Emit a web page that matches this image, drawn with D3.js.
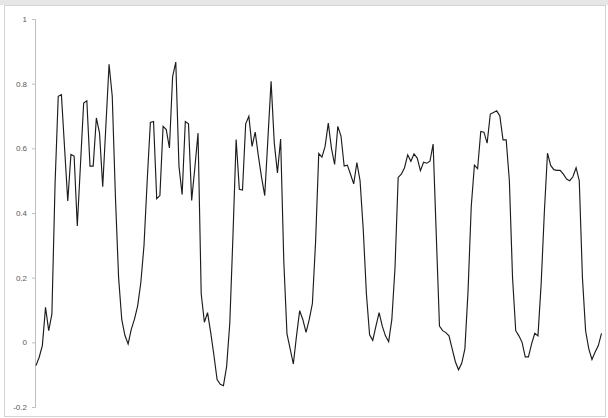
<!DOCTYPE html>
<html>
<head>
<meta charset="utf-8">
<script src="https://cdn.jsdelivr.net/npm/d3@7"></script>
<style>
  html, body { margin: 0; padding: 0; background: #ffffff; }
  svg { display: block; }
</style>
</head>
<body>
<div id="chart"></div>
<script>
// ---- data ----
const values = [
  -0.072, -0.046, -0.010, 0.108, 0.036, 0.087, 0.49, 0.761, 0.766, 0.60,
  0.437, 0.581, 0.576, 0.360, 0.55, 0.740, 0.747, 0.545, 0.545, 0.694,
  0.647, 0.481, 0.67, 0.860, 0.761, 0.45, 0.20, 0.07, 0.021, -0.005,
  0.041, 0.072, 0.113, 0.185, 0.30, 0.50, 0.680, 0.683, 0.444, 0.454,
  0.668, 0.658, 0.601, 0.822, 0.867, 0.545, 0.457, 0.683, 0.676, 0.439,
  0.54, 0.647, 0.15, 0.062, 0.092, 0.03, -0.04, -0.115, -0.13, -0.134,
  -0.075, 0.06, 0.33, 0.627, 0.473, 0.471, 0.676, 0.699, 0.606, 0.650,
  0.576, 0.51, 0.454, 0.63, 0.807, 0.617, 0.524, 0.629, 0.25, 0.026,
  -0.02, -0.067, 0.02, 0.098, 0.07, 0.031, 0.07, 0.12, 0.31, 0.584,
  0.573, 0.606, 0.678, 0.60, 0.55, 0.668, 0.638, 0.545, 0.548, 0.52,
  0.49, 0.556, 0.50, 0.35, 0.15, 0.023, 0.006, 0.05, 0.092, 0.05,
  0.02, 0.002, 0.07, 0.23, 0.51, 0.52, 0.54, 0.58, 0.56, 0.583,
  0.57, 0.531, 0.557, 0.554, 0.56, 0.613, 0.33, 0.05, 0.036, 0.03,
  0.02, -0.02, -0.06, -0.085, -0.065, -0.02, 0.16, 0.42, 0.548, 0.537,
  0.652, 0.65, 0.616, 0.706, 0.711, 0.716, 0.70, 0.626, 0.626, 0.50,
  0.2, 0.036, 0.02, 0.0, -0.045, -0.045, -0.005, 0.028, 0.02, 0.18,
  0.40, 0.585, 0.547, 0.534, 0.532, 0.532, 0.52, 0.505, 0.5, 0.512,
  0.54, 0.5, 0.2, 0.035, -0.02, -0.053, -0.03, -0.01, 0.028
];
const yTicks = [-0.2, 0, 0.2, 0.4, 0.6, 0.8, 1];
const yTickLabels = ["-0.2", "0", "0.2", "0.4", "0.6", "0.8", "1"];
const yDomain = [-0.2, 1];

// ---- layout ----
const W = 608, H = 418;
const svg = d3.select("#chart").append("svg")
  .attr("width", W).attr("height", H);

// outer frame
svg.append("rect").attr("x", 0).attr("y", 0).attr("width", W).attr("height", 5)
  .attr("fill", "#e6e6e6");
svg.append("rect").attr("x", 4.5).attr("y", 5.5).attr("width", 601).attr("height", 411)
  .attr("fill", "#ffffff").attr("stroke", "#d4d4d4").attr("stroke-width", 1);

const x = d3.scaleLinear().domain([0, values.length - 1]).range([36, 601.5]);
const y = d3.scaleLinear().domain(yDomain).range([407, 19]);

// y axis
const yAxis = d3.axisLeft(y)
  .tickValues(yTicks)
  .tickFormat((d, i) => yTickLabels[i])
  .tickSize(3)
  .tickPadding(5);

const gy = svg.append("g").attr("transform", "translate(35,0)").call(yAxis);
gy.select(".domain").attr("stroke", "#bfbfbf").attr("stroke-width", 1);
gy.selectAll(".tick line").attr("stroke", "#bfbfbf");
gy.selectAll(".tick text")
  .attr("fill", "#595959")
  .style("font-family", "'Liberation Sans', Arial, sans-serif")
  .style("font-size", "8px");

// line
const line = d3.line()
  .x((d, i) => x(i))
  .y(d => y(d));

svg.append("path")
  .datum(values)
  .attr("fill", "none")
  .attr("stroke", "#1c1c1c")
  .attr("stroke-width", 1.15)
  .attr("stroke-linejoin", "miter")
  .attr("d", line);
</script>
</body>
</html>
